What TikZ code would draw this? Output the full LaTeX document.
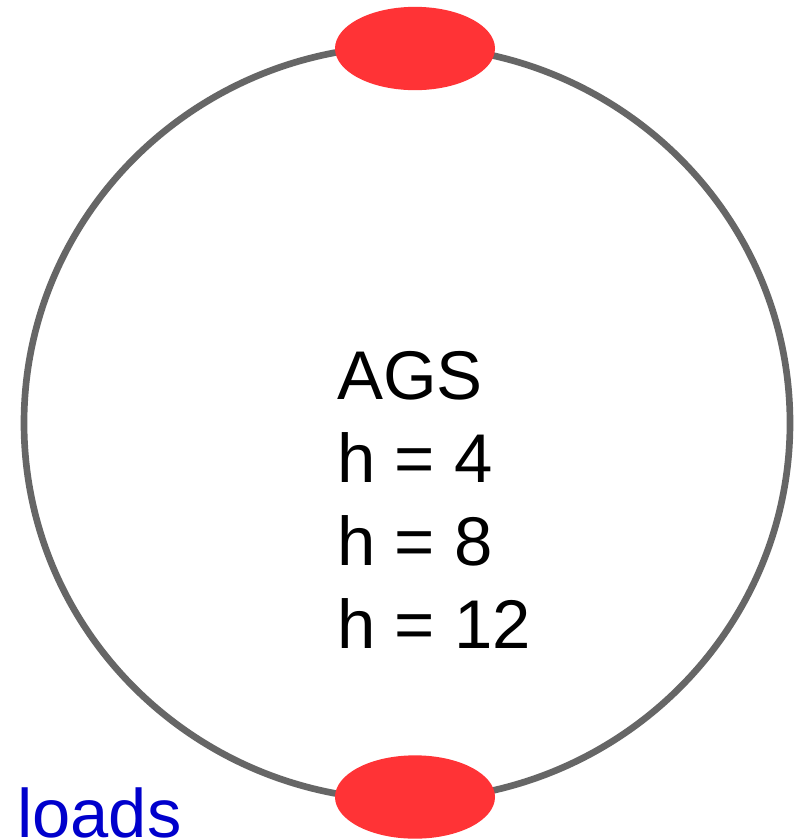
\documentclass[tikz,border=0pt]{standalone}
\usepackage{fontspec}
\setmainfont{Liberation Sans}
\usetikzlibrary{shapes.geometric}
\definecolor{RingGray}{rgb}{0.40, 0.40, 0.40}
\definecolor{PadRed}{rgb}{1.00, 0.20, 0.21}
\definecolor{LoadBlue}{rgb}{0.00, 0.00, 0.80}

\begin{document}
\begin{tikzpicture}[x=0.75pt, y=-0.75pt,
    pad/.style={ellipse, fill=PadRed, draw=none, minimum width=120pt, minimum height=62.5pt, inner sep=0pt},
    txt/.style={font=\fontsize{51.7pt}{62pt}\selectfont, inner sep=0pt, anchor=base west}]

\clip (0,0) rectangle (801,839);
\fill[white] (0,0) rectangle (801,839);

% anillo
\draw[RingGray, line width=5pt] (407,423) ellipse [x radius=383, y radius=377];

% contactos arriba y abajo
\node[pad] (padtop) at (415,48.5) {};
\node[pad] (padbot) at (415,797) {};

% texto central
\foreach \i/\t in {0/AGS, 1/h = 4, 2/h = 8, 3/h = 12}{
    \node[txt] (line\i) at (337,{399+83*\i}) {\t};
}

% etiqueta
\node[txt, text=LoadBlue, font=\fontsize{51.5pt}{60pt}\selectfont] (loads) at (17,837) {loads};

\end{tikzpicture}
\end{document}
